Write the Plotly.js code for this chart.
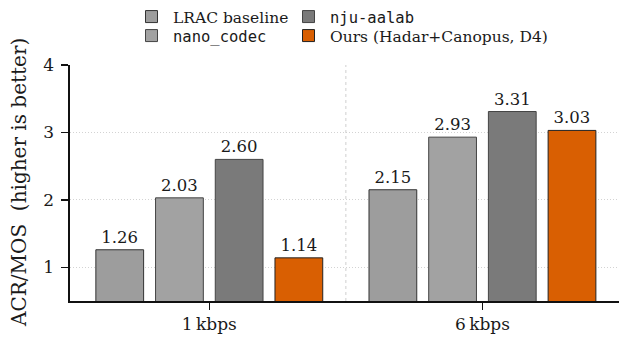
<!DOCTYPE html>
<html>
<head>
<meta charset="utf-8">
<script src="https://cdn.plot.ly/plotly-3.0.1.min.js"></script>
<style>html,body{margin:0;padding:0;background:#fff;}#chart{width:619px;height:339px;}</style>
</head>
<body>
<div id="chart"></div>
<script>
const categories = ['1\u2009kbps', '6\u2009kbps'];
const seriesNames = ['LRAC baseline', 'nano_codec', 'nju-aalab', 'Ours (Hadar+Canopus, D4)'];
const lracValues = [1.26, 2.15];
const nanoValues = [2.03, 2.93];
const njuValues = [2.60, 3.31];
const oursValues = [1.14, 3.03];
const yTickVals = [1, 2, 3, 4];
const yTitle = 'ACR/MOS  (higher is better)';

const seriesValues = [lracValues, nanoValues, njuValues, oursValues];
const colors = ['#9d9d9d', '#a2a2a2', '#7a7a7a', '#d95f02'];
const lineColors = ['#333333', '#444444', '#444444', '#222222'];
const legendIds = ['legend', 'legend2', 'legend3', 'legend4'];
const labelFonts = ['DejaVu Serif', 'DejaVu Sans Mono', 'DejaVu Sans Mono', 'DejaVu Serif'];
const serif = 'DejaVu Serif';

const traces = seriesNames.map((name, i) => ({
  type: 'bar',
  name: name,
  x: categories,
  y: seriesValues[i],
  text: seriesValues[i].map(v => v.toFixed(2)),
  textposition: 'outside',
  cliponaxis: false,
  textfont: {family: serif, size: 16.5, color: '#1a1a1a'},
  marker: {color: colors[i], line: {color: lineColors[i], width: 1}},
  legend: legendIds[i],
  hoverinfo: 'none'
}));

function mkLegend(x, y, family) {
  return {
    xref: 'container', yref: 'container',
    x: x / 619, y: 1 - y / 339,
    xanchor: 'left', yanchor: 'top',
    bgcolor: 'rgba(0,0,0,0)', borderwidth: 0,
    itemwidth: 33, itemclick: false,
    font: {family: family, size: 15.5, color: '#1a1a1a'}
  };
}

const layout = {
  width: 619, height: 339,
  margin: {l: 70, r: 0, t: 65, b: 38, autoexpand: false},
  paper_bgcolor: '#fff', plot_bgcolor: '#fff',
  barmode: 'group', bargap: 0.1256, bargroupgap: 0.2,
  font: {family: serif, color: '#1a1a1a'},
  showlegend: true,
  legend: mkLegend(130, 0, labelFonts[0]),
  legend2: mkLegend(130, 19, labelFonts[1]),
  legend3: mkLegend(287, 0, labelFonts[2]),
  legend4: mkLegend(287, 19, labelFonts[3]),
  xaxis: {
    type: 'category', range: [-0.51, 1.5],
    showline: true, linecolor: '#111', linewidth: 1.6,
    ticks: 'outside', ticklen: 7, tickwidth: 1.4, tickcolor: '#111',
    tickfont: {family: serif, size: 17, color: '#1a1a1a'},
    tickangle: 0,
    showgrid: false, zeroline: false, fixedrange: true
  },
  yaxis: {
    range: [0.5, 4], tickvals: yTickVals,
    showline: true, linecolor: '#111', linewidth: 1.6,
    ticks: 'outside', ticklen: 7, tickwidth: 1.4, tickcolor: '#111',
    tickfont: {family: serif, size: 17, color: '#1a1a1a'},
    ticklabelstandoff: 4,
    showgrid: true, gridcolor: '#c8c8c8', gridwidth: 0.8, griddash: '1px,2px',
    zeroline: false, fixedrange: true
  },
  annotations: [{
    text: yTitle, xref: 'paper', yref: 'paper',
    x: (19 - 70) / 549, y: 0.5, xanchor: 'center', yanchor: 'middle',
    textangle: -90, showarrow: false,
    font: {family: serif, size: 20, color: '#1a1a1a'}
  }],
  shapes: [{
    type: 'line', xref: 'x', yref: 'paper', x0: 0.5, x1: 0.5, y0: 0, y1: 1,
    line: {color: '#c4c4c4', width: 0.8, dash: '3px,3px'}, layer: 'below'
  }]
};

Plotly.newPlot('chart', traces, layout, {staticPlot: true, displayModeBar: false});
</script>
</body>
</html>
